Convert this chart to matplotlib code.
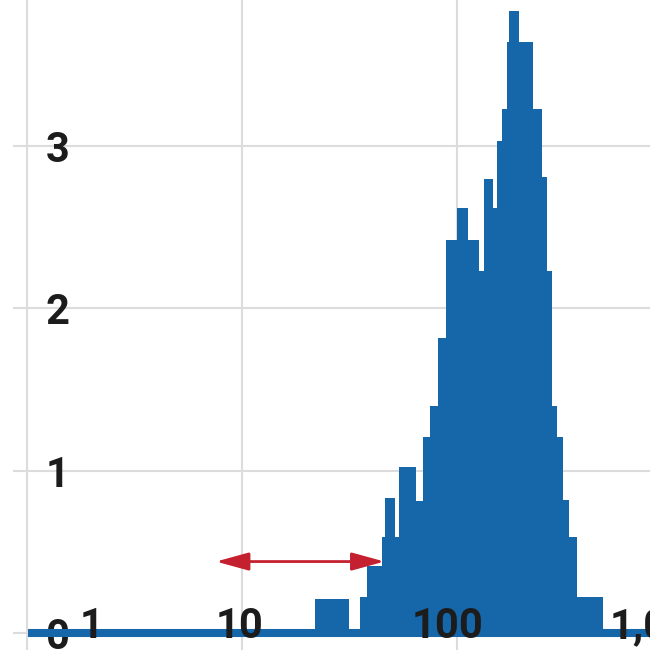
import matplotlib
matplotlib.use("Agg")
import matplotlib.pyplot as plt
from matplotlib.ticker import NullLocator, FixedLocator
from matplotlib.transforms import offset_copy

# histogram: bin edges on a log x axis and bar heights
bin_edges = [22, 31.5, 35.5, 38.5, 45, 46.5, 52, 54, 65, 70, 75, 82, 89, 101, 113,
             127, 134, 147.5, 155, 163, 171, 175, 195, 226, 250, 263, 277, 293,
             313, 333, 363, 480]
bar_heights = [0.21, 0.0, 0.22, 0.41, 0.59, 0.83, 0.59, 1.02, 0.81, 1.21, 1.40,
               1.82, 2.42, 2.62, 2.42, 2.23, 2.80, 2.62, 3.03, 3.23, 3.64, 3.83,
               3.64, 3.23, 2.81, 2.23, 1.40, 1.21, 0.82, 0.59, 0.22]
x_ticks = [1, 10, 100, 1000]
x_tick_labels = ["1", "10", "100", "1,000"]
x_label_shift = [65, -2, -9, -9]  # px, labels sit a bit off their gridlines
y_ticks = [0, 1, 2, 3]
arrow_span = (7.6, 46.2)
arrow_level = 0.44

BLUE = "#1667a9"
RED = "#c4202f"
GRID = "#dcdcdc"
INK = "#1c1c1c"

plt.rcParams["font.family"] = ["Roboto", "DejaVu Sans"]

fig = plt.figure(figsize=(6.5, 6.5), dpi=100)
# the plot runs past the right and bottom edges of the picture
ax = fig.add_axes([0.0411, 0.0, 1.091, 1.0])
ax.set_xscale("log")
ax.set_xlim(1, 10 ** 3.3)
ax.set_ylim(-0.105, 3.90)

ax.stairs(bar_heights, bin_edges, fill=True, color=BLUE, linewidth=0, zorder=2)
ax.axhline(0, color=BLUE, lw=5.8, zorder=2.5)

ax.annotate("", xy=(arrow_span[0], arrow_level), xytext=(arrow_span[1], arrow_level),
            arrowprops=dict(arrowstyle="<|-|>,head_length=0.8,head_width=0.22",
                            mutation_scale=25, color=RED, lw=2,
                            shrinkA=0, shrinkB=0),
            zorder=3)

# grid and axes
ax.set_axisbelow(True)
ax.xaxis.set_major_locator(FixedLocator(x_ticks))
ax.xaxis.set_minor_locator(NullLocator())
ax.set_xticklabels([])
ax.set_yticks(y_ticks)
ax.grid(True, color=GRID, lw=1.5)
for side in ["top", "right", "bottom"]:
    ax.spines[side].set_visible(False)
ax.spines["left"].set_color(GRID)
ax.spines["left"].set_linewidth(1.5)
ax.tick_params(axis="x", length=0)
ax.tick_params(axis="y", length=10, width=1.5, color=GRID, direction="out",
               pad=-32.4, labelsize=30, labelcolor=INK)
for lbl in ax.get_yticklabels():
    lbl.set_horizontalalignment("center")
    lbl.set_fontweight("bold")
    lbl.set_zorder(4)

for xv, txt, dx in zip(x_ticks, x_tick_labels, x_label_shift):
    tr = offset_copy(ax.transData, fig=fig, x=dx, y=-5, units="dots")
    ax.text(xv, 0, txt, transform=tr, ha="center", va="baseline",
            fontsize=30, fontweight="bold", color=INK, zorder=4, clip_on=False)

fig.savefig("out.png", dpi=100)
